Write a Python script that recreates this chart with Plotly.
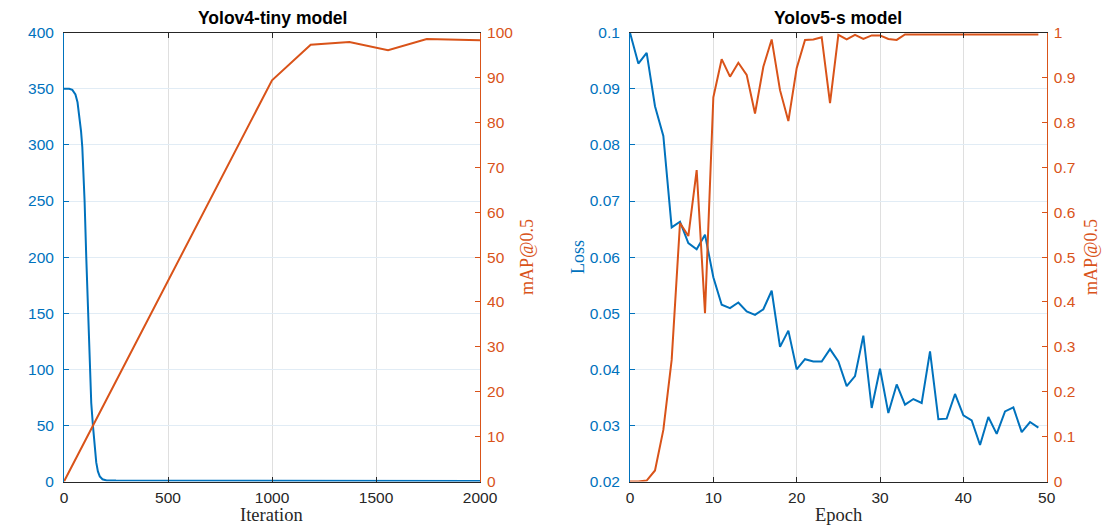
import plotly.graph_objects as go

# ---- Yolov4-tiny: loss and mAP against iteration ----
v4_loss_iter = [0, 25, 40, 55, 65, 75, 82, 88, 94, 99, 107, 115, 124, 131, 139,
                147, 155, 163, 172, 185, 205, 250, 500, 1000, 1500, 2000]
v4_loss = [350, 350, 349, 345, 338, 325, 312, 298, 275, 250, 200, 150, 100, 70, 50,
           30, 17, 9, 4.5, 2, 1, 0.8, 0.7, 0.6, 0.5, 0.5]
v4_map_iter = [0, 1000, 1186, 1372, 1558, 1744, 2000]
v4_map = [0, 89.4, 97.3, 97.9, 96.1, 98.6, 98.3]

# ---- Yolov5-s: loss and mAP against epoch ----
v5_epoch = list(range(50))
v5_loss = [0.1, 0.0945, 0.0964, 0.0869, 0.0816, 0.0653, 0.0663, 0.0625, 0.0614, 0.0640,
           0.0564, 0.0515, 0.0509, 0.0519, 0.0503, 0.0497, 0.0507, 0.0540, 0.0440, 0.0469,
           0.0400, 0.0418, 0.0414, 0.0414, 0.0436, 0.0414, 0.0370, 0.0388, 0.0460, 0.0331,
           0.0401, 0.0322, 0.0373, 0.0337, 0.0347, 0.0340, 0.0432, 0.0311, 0.0312, 0.0356,
           0.0318, 0.0309, 0.0265, 0.0315, 0.0285, 0.0325, 0.0332, 0.0288, 0.0306, 0.0296]
v5_map = [0.0, 0.0, 0.002, 0.0245, 0.115, 0.271, 0.576, 0.547, 0.694, 0.375,
          0.856, 0.941, 0.902, 0.933, 0.906, 0.820, 0.924, 0.985, 0.872, 0.803,
          0.921, 0.984, 0.985, 0.990, 0.843, 0.995, 0.985, 0.995, 0.986, 0.994,
          0.994, 0.986, 0.984, 0.996, 0.996, 0.996, 0.996, 0.996, 0.996, 0.996,
          0.996, 0.996, 0.996, 0.996, 0.996, 0.996, 0.996, 0.996, 0.996, 0.996]

# ---- tick labels ----
v4_x_ticks = [0, 500, 1000, 1500, 2000]
v4_loss_ticks = [0, 50, 100, 150, 200, 250, 300, 350, 400]
v4_map_ticks = [0, 10, 20, 30, 40, 50, 60, 70, 80, 90, 100]
v5_x_ticks = [0, 10, 20, 30, 40, 50]
v5_loss_ticks = [0.02, 0.03, 0.04, 0.05, 0.06, 0.07, 0.08, 0.09, 0.1]
v5_loss_text = ["0.02", "0.03", "0.04", "0.05", "0.06", "0.07", "0.08", "0.09", "0.1"]
v5_map_ticks = [0, 0.1, 0.2, 0.3, 0.4, 0.5, 0.6, 0.7, 0.8, 0.9, 1]
v5_map_text = ["0", "0.1", "0.2", "0.3", "0.4", "0.5", "0.6", "0.7", "0.8", "0.9", "1"]

BLUE = "#0072BD"
ORANGE = "#D95319"
DARK = "#262626"
SANS = "Liberation Sans, Arial, sans-serif"
SERIF = "Liberation Serif, Times New Roman, serif"

W, H = 1108, 527
def px(x):
    return x / W
def py(y):
    return 1 - y / H

fig = go.Figure()

fig.add_trace(go.Scatter(x=v4_loss_iter, y=v4_loss, mode="lines",
                         line=dict(color=BLUE, width=2), xaxis="x", yaxis="y"))
fig.add_trace(go.Scatter(x=v4_map_iter, y=v4_map, mode="lines",
                         line=dict(color=ORANGE, width=2), xaxis="x", yaxis="y2"))
fig.add_trace(go.Scatter(x=v5_epoch, y=v5_loss, mode="lines",
                         line=dict(color=BLUE, width=2), xaxis="x2", yaxis="y3"))
fig.add_trace(go.Scatter(x=v5_epoch, y=v5_map, mode="lines",
                         line=dict(color=ORANGE, width=2), xaxis="x2", yaxis="y4"))

ydom = [py(481.5), py(32.7)]
tickfont_x = dict(family=SANS, size=15.5, color=DARK)

def xaxis_cfg(dom, rng, ticks, anchor):
    return dict(domain=dom, range=rng, tickvals=ticks, anchor=anchor,
                showline=True, linecolor=DARK, linewidth=1, mirror="ticks",
                ticks="inside", ticklen=5, tickcolor=DARK, ticklabelstandoff=2,
                showgrid=True, gridcolor="#dfdfdf", gridwidth=1,
                zeroline=False, tickfont=tickfont_x, automargin=False)

def yleft_cfg(rng, ticks, text, anchor):
    return dict(domain=ydom, range=rng, tickvals=ticks, ticktext=text, anchor=anchor,
                showline=True, linecolor=BLUE, linewidth=1,
                ticks="inside", ticklen=5, tickcolor=BLUE, ticklabelstandoff=6,
                showgrid=True, gridcolor="#e1ecf5", gridwidth=1,
                zeroline=False, automargin=False,
                tickfont=dict(family=SANS, size=15.5, color=BLUE))

def yright_cfg(rng, ticks, text, anchor, overlay):
    return dict(domain=ydom, range=rng, tickvals=ticks, ticktext=text, anchor=anchor,
                overlaying=overlay, side="right",
                showline=True, linecolor=ORANGE, linewidth=1,
                ticks="inside", ticklen=5, tickcolor=ORANGE, ticklabelstandoff=3,
                showgrid=False, zeroline=False, automargin=False,
                tickfont=dict(family=SANS, size=15.5, color=ORANGE))

fig.update_layout(
    width=W, height=H,
    margin=dict(l=0, r=0, t=0, b=0, pad=0, autoexpand=False),
    paper_bgcolor="white", plot_bgcolor="white",
    showlegend=False,
    xaxis=xaxis_cfg([px(64), px(480)], [0, 2000], v4_x_ticks, "y"),
    yaxis=yleft_cfg([0, 400], v4_loss_ticks, [str(v) for v in v4_loss_ticks], "x"),
    yaxis2=yright_cfg([0, 100], v4_map_ticks, [str(v) for v in v4_map_ticks], "x", "y"),
    xaxis2=xaxis_cfg([px(630), px(1046.7)], [0, 50], v5_x_ticks, "y3"),
    yaxis3=yleft_cfg([0.02, 0.1], v5_loss_ticks, v5_loss_text, "x2"),
    yaxis4=yright_cfg([0, 1], v5_map_ticks, v5_map_text, "x2", "y3"),
)

annotations = [
    dict(text="<b>Yolov4-tiny model</b>", x=px(272), y=py(18), yanchor="middle",
         font=dict(family=SANS, size=17.5, color="black")),
    dict(text="<b>Yolov5-s model</b>", x=px(838.3), y=py(18), yanchor="middle",
         font=dict(family=SANS, size=17.5, color="black")),
    dict(text="Iteration", x=px(271.7), y=0, yanchor="bottom",
         font=dict(family=SERIF, size=18.5, color=DARK)),
    dict(text="Epoch", x=px(838.3), y=0, yanchor="bottom",
         font=dict(family=SERIF, size=18.5, color=DARK)),
    dict(text="mAP@0.5", x=px(527), y=py(257), textangle=-90, yanchor="middle",
         font=dict(family=SERIF, size=18, color=ORANGE)),
    dict(text="Loss", x=px(578), y=py(257), textangle=-90, yanchor="middle",
         font=dict(family=SERIF, size=18, color=BLUE)),
    dict(text="mAP@0.5", x=px(1091), y=py(257), textangle=-90, yanchor="middle",
         font=dict(family=SERIF, size=18, color=ORANGE)),
]
for a in annotations:
    a.update(xref="paper", yref="paper", showarrow=False, xanchor="center")
fig.update_layout(annotations=annotations)

fig.write_html("out.html", config={"staticPlot": True})
